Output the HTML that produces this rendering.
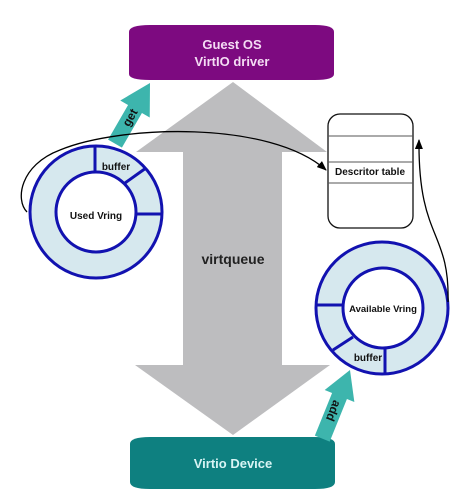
<!DOCTYPE html>
<html><head><style>body{margin:0;background:#fff}svg{display:block}text{font-family:"Liberation Sans","DejaVu Sans",sans-serif;font-weight:bold}</style></head>
<body>
<svg width="470" height="503" viewBox="0 0 470 503" xmlns="http://www.w3.org/2000/svg">
<defs><marker id="ah" markerWidth="10" markerHeight="8" refX="9" refY="4" orient="auto" markerUnits="userSpaceOnUse"><path d="M0,0 L10,4 L0,8 Z" fill="#000"/></marker></defs>
<polygon points="233,82 327,152 282,152 282,365 330,365 233,435 135,365 183,365 183,152 136,152" fill="#bdbdbf"/>
<text x="233" y="264" font-size="14" text-anchor="middle" fill="#222">virtqueue</text>
<path d="M129,32 Q129,25 150,25 L315,25 Q334,25 334,32 L334,74 Q334,80 315,80 L150,80 Q129,80 129,74 Z" fill="#7d0a80"/>
<text x="232" y="49" font-size="13" text-anchor="middle" fill="#f4dcf4">Guest OS</text>
<text x="232" y="66" font-size="13" text-anchor="middle" fill="#f4dcf4">VirtIO driver</text>
<path d="M130,444 Q130,437 150,437 L315,437 Q335,437 335,444 L335,482 Q335,489 315,489 L150,489 Q130,489 130,482 Z" fill="#0e8080"/>
<text x="233" y="468" font-size="13" text-anchor="middle" fill="#d8f4f4">Virtio Device</text>
<g transform="translate(150,83) rotate(30)">
<polygon points="0,0 17,30 8,30 8,70 -8,70 -8,30 -17,30" fill="#3db5ad"/>
<text transform="translate(4,40) rotate(-90)" font-size="12" text-anchor="middle" fill="#111">get</text>
</g>
<g transform="translate(350,370) rotate(22)">
<polygon points="0,0 16,28 8,28 8,74 -8,74 -8,28 -16,28" fill="#3db5ad"/>
<text transform="translate(-4,44) rotate(90)" font-size="12" text-anchor="middle" fill="#111">add</text>
</g>
<circle cx="96" cy="212" r="53" fill="none" stroke="#d6e8ee" stroke-width="26"/>
<circle cx="96" cy="212" r="66" fill="none" stroke="#1212b0" stroke-width="3"/>
<circle cx="96" cy="212" r="40" fill="#fff" stroke="#1212b0" stroke-width="3"/>
<line x1="95" y1="146" x2="95" y2="172" stroke="#1212b0" stroke-width="3"/>
<line x1="125" y1="183" x2="146" y2="168" stroke="#1212b0" stroke-width="3"/>
<line x1="136" y1="214" x2="162" y2="214" stroke="#1212b0" stroke-width="3"/>
<text x="116" y="170" font-size="10" text-anchor="middle" fill="#111">buffer</text>
<text x="96" y="219" font-size="10" text-anchor="middle" fill="#111">Used Vring</text>
<circle cx="382" cy="308" r="53" fill="none" stroke="#d6e8ee" stroke-width="26"/>
<circle cx="382" cy="308" r="66" fill="none" stroke="#1212b0" stroke-width="3"/>
<circle cx="383" cy="308" r="40" fill="#fff" stroke="#1212b0" stroke-width="3"/>
<line x1="316" y1="305" x2="344" y2="305" stroke="#1212b0" stroke-width="3"/>
<line x1="333" y1="350" x2="353" y2="337" stroke="#1212b0" stroke-width="3"/>
<line x1="385" y1="348" x2="385" y2="374" stroke="#1212b0" stroke-width="3"/>
<text x="368" y="361" font-size="10" text-anchor="middle" fill="#111">buffer</text>
<text x="383" y="312" font-size="9.5" text-anchor="middle" fill="#111">Available Vring</text>
<rect x="328" y="114" width="85" height="114" rx="12" fill="#fff" stroke="#111" stroke-width="1.3"/>
<line x1="328" y1="136" x2="413" y2="136" stroke="#555"/>
<line x1="328" y1="162" x2="413" y2="162" stroke="#555"/>
<line x1="328" y1="183" x2="413" y2="183" stroke="#555"/>
<text x="370" y="175" font-size="10" text-anchor="middle" fill="#111">Descritor table</text>
<path d="M27,212 C15,200 20,165 60,150 C120,125 270,120 326,170" fill="none" stroke="#000" stroke-width="1.3" marker-end="url(#ah)"/>
<path d="M448,302 C450,230 418,240 419,140" fill="none" stroke="#000" stroke-width="1.3" marker-end="url(#ah)"/>
</svg>
</body></html>
